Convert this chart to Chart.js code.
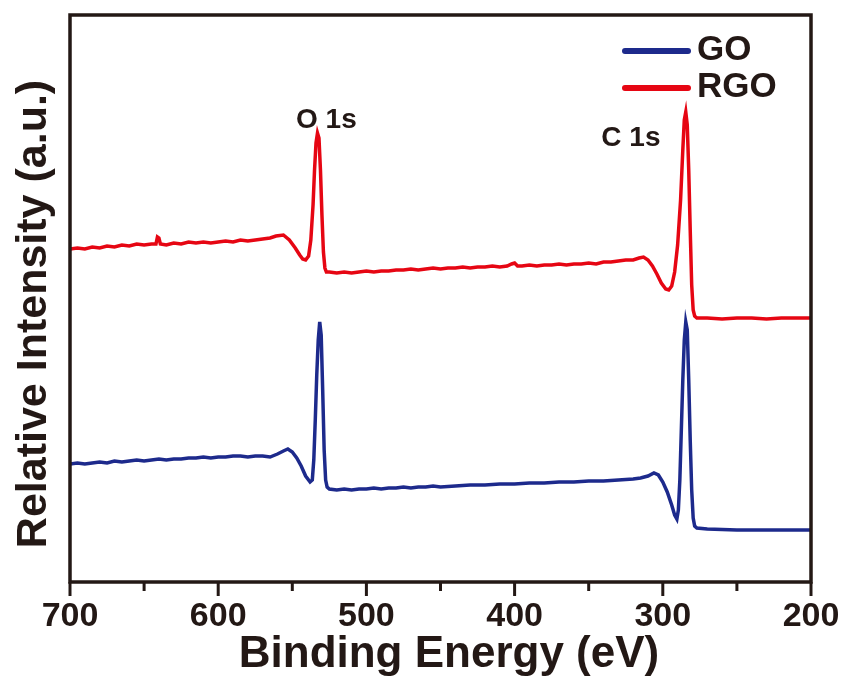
<!DOCTYPE html>
<html>
<head>
<meta charset="utf-8">
<script src="https://cdn.jsdelivr.net/npm/chart.js@4.4.0/dist/chart.umd.min.js"></script>
<style>
  body { margin: 0; background: #fff; }
</style>
</head>
<body>
<canvas id="xps" width="852" height="677"></canvas>
<script>
// binding energy (eV) and relative intensity (a.u.)
const rgoEnergy = [700, 695, 690, 685, 680, 675, 670, 665, 660, 655, 650, 645, 642, 641, 640, 639, 635, 630, 625, 620,
  615, 610, 605, 600, 595, 590, 585, 580, 575, 570, 565, 561, 556, 552, 548, 545, 543, 541, 539, 537.5,
  536, 535, 534, 533, 532, 531, 530, 529, 528, 527, 525, 520, 515, 510, 505, 500, 495, 490, 485, 480,
  475, 470, 465, 460, 455, 450, 445, 440, 435, 430, 425, 420, 415, 410, 405, 402, 400, 398, 395, 390,
  385, 380, 375, 370, 365, 360, 355, 350, 345, 340, 335, 330, 325, 320, 316, 313, 310, 307, 304, 301,
  298, 296, 294, 292, 290, 288, 286.5, 285.5, 284.5, 283.5, 282.5, 281.5, 280.5, 279.5, 278.5, 277, 270, 260, 250, 240,
  230, 220, 210, 200];
const rgoIntensity = [333, 334, 333, 335, 334, 336, 335, 337, 336, 338, 337, 338, 338, 345, 344, 338, 337, 339, 338, 340,
  339, 340, 339, 340, 341, 340, 342, 341, 342, 343, 344, 346, 347, 342, 334, 327, 323, 322, 326, 342,
  377, 412, 439, 449, 444, 412, 367, 330, 314, 310, 310, 309, 310, 309, 310, 311, 310, 311, 311, 312,
  312, 313, 312, 313, 314, 313, 314, 314, 315, 314, 315, 315, 316, 315, 316, 318, 319, 316, 316, 317,
  316, 317, 317, 318, 317, 318, 318, 319, 318, 320, 320, 321, 322, 322, 324, 325, 322, 316, 308, 299,
  293, 292, 296, 310, 337, 382, 432, 462, 470, 457, 412, 352, 297, 272, 266, 264, 264, 263, 264, 264,
  263, 264, 264, 264];

const goEnergy = [700, 695, 690, 685, 680, 675, 670, 665, 660, 655, 650, 645, 640, 635, 630, 625, 620, 615, 610, 605,
  600, 595, 590, 585, 580, 575, 570, 565, 560, 556, 553, 550, 547, 544, 541, 538, 536.5, 535.5, 534.5, 533.5,
  532.5, 531.5, 530.5, 529.5, 528.5, 527.5, 526.5, 525, 520, 515, 510, 505, 500, 495, 490, 485, 480, 475, 470, 465,
  460, 455, 450, 440, 430, 420, 410, 400, 390, 380, 370, 360, 350, 340, 330, 320, 315, 310, 306, 303,
  300, 297, 294, 292, 290.5, 289.5, 288.5, 287.5, 286.5, 285.5, 284.5, 283.5, 282.5, 281.5, 280.5, 279.5, 278.5, 277, 270, 250,
  230, 200];
const goIntensity = [118, 119, 118, 119, 120, 119, 121, 120, 121, 122, 121, 122, 123, 122, 123, 123, 124, 124, 125, 124,
  125, 125, 126, 126, 125, 126, 126, 125, 128, 131, 133, 130, 124, 116, 106, 100, 102, 122, 162, 207,
  242, 260, 247, 192, 132, 102, 95, 93, 92, 93, 92, 93, 93, 94, 93, 94, 94, 95, 94, 95,
  95, 96, 95, 96, 97, 97, 98, 98, 99, 99, 100, 100, 101, 101, 102, 103, 104, 106, 109, 107,
  100, 90, 77, 67, 63, 72, 102, 152, 202, 242, 260, 252, 202, 142, 92, 64, 56, 54, 53, 52,
  52, 52];

const seriesNames = ["GO", "RGO"];
const seriesColors = ["#1d2a8c", "#e60613"];
const xTicks = [700, 600, 500, 400, 300, 200];
const xMinorTicks = [650, 550, 450, 350, 250];
const peakNames = ["O 1s", "C 1s"];
const peakLabelEnergy = [527, 321.5];
const peakLabelIntensity = [454, 436];

const ink = "#231815";
const fontFamily = "'Liberation Sans', Arial, Helvetica, sans-serif";

function toPoints(xs, ys) {
  return xs.map((x, i) => ({ x: x, y: ys[i] }));
}

const decorations = {
  id: "decorations",
  afterDatasetsDraw(chart) {
    const ctx = chart.ctx;
    const a = chart.chartArea;
    const xs = chart.scales.x;
    const ys = chart.scales.y;
    ctx.save();

    // frame
    ctx.strokeStyle = ink;
    ctx.lineWidth = 3.5;
    ctx.strokeRect(a.left, a.top, a.right - a.left, a.bottom - a.top);

    // major and minor ticks on the energy axis
    ctx.lineWidth = 3;
    ctx.lineCap = "butt";
    xTicks.forEach((v) => {
      const px = xs.getPixelForValue(v);
      ctx.beginPath();
      ctx.moveTo(px, a.bottom);
      ctx.lineTo(px, a.bottom + 14);
      ctx.stroke();
    });
    xMinorTicks.forEach((v) => {
      const px = xs.getPixelForValue(v);
      ctx.beginPath();
      ctx.moveTo(px, a.bottom);
      ctx.lineTo(px, a.bottom + 9);
      ctx.stroke();
    });

    // peak names
    ctx.fillStyle = ink;
    ctx.font = "bold 28px " + fontFamily;
    ctx.textAlign = "center";
    ctx.textBaseline = "alphabetic";
    peakNames.forEach((t, i) => {
      ctx.fillText(t, xs.getPixelForValue(peakLabelEnergy[i]), ys.getPixelForValue(peakLabelIntensity[i]));
    });

    // legend
    ctx.font = "bold 35px " + fontFamily;
    ctx.textAlign = "left";
    ctx.textBaseline = "middle";
    ctx.lineWidth = 6;
    ctx.lineCap = "round";
    chart.data.datasets.forEach((ds, i) => {
      const ly = 51 + i * 37;
      ctx.strokeStyle = ds.borderColor;
      ctx.beginPath();
      ctx.moveTo(625, ly);
      ctx.lineTo(688, ly);
      ctx.stroke();
      ctx.fillText(ds.label, 697, ly - 1);
    });

    // axis titles
    ctx.font = "bold 44px " + fontFamily;
    ctx.textAlign = "center";
    ctx.textBaseline = "alphabetic";
    ctx.fillText("Binding Energy (eV)", 449, 667);

    ctx.font = "bold 43px " + fontFamily;
    ctx.translate(46, 314);
    ctx.rotate(-Math.PI / 2);
    ctx.fillText("Relative Intensity (a.u.)", 0, 0);
    ctx.restore();
  }
};

const ctx = document.getElementById("xps").getContext("2d");
const myChart = new Chart(ctx, {
  type: "line",
  data: {
    datasets: [
      {
        label: seriesNames[0],
        data: toPoints(goEnergy, goIntensity),
        borderColor: seriesColors[0],
        borderWidth: 3.5,
        pointRadius: 0,
        tension: 0,
        fill: false
      },
      {
        label: seriesNames[1],
        data: toPoints(rgoEnergy, rgoIntensity),
        borderColor: seriesColors[1],
        borderWidth: 3.5,
        pointRadius: 0,
        tension: 0,
        fill: false
      }
    ]
  },
  options: {
    responsive: false,
    animation: false,
    devicePixelRatio: 1,
    layout: { padding: { top: 15, right: 41, left: 0, bottom: 0 } },
    plugins: {
      legend: { display: false },
      tooltip: { enabled: false }
    },
    scales: {
      x: {
        type: "linear",
        reverse: true,
        min: 200,
        max: 700,
        afterFit: (scale) => { scale.height = 95; },
        afterBuildTicks: (scale) => { scale.ticks = xTicks.map((v) => ({ value: v })); },
        border: { display: false },
        grid: { display: true, drawOnChartArea: false, drawTicks: true, tickLength: 14, tickColor: "rgba(0,0,0,0)" },
        ticks: {
          color: ink,
          font: { family: fontFamily, size: 34, weight: "bold" },
          padding: 0,
          maxRotation: 0,
          autoSkip: false
        }
      },
      y: {
        min: 0,
        max: 567,
        afterFit: (scale) => { scale.width = 70; },
        border: { display: false },
        grid: { display: false },
        ticks: { display: false }
      }
    }
  },
  plugins: [decorations]
});
</script>
</body>
</html>
